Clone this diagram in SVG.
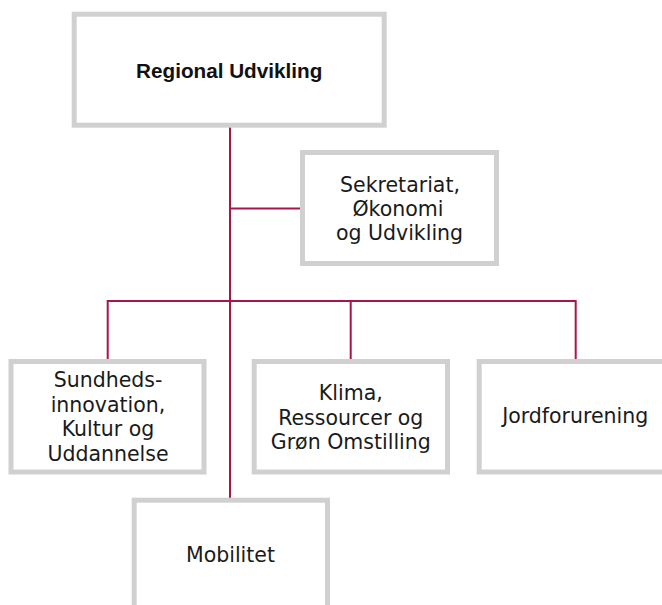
<svg xmlns="http://www.w3.org/2000/svg" width="662" height="605" viewBox="0 0 662 605">
<style>
.box{fill:#ffffff;stroke:#d0d0d0;stroke-width:5}
.t{font-family:"DejaVu Sans","Liberation Sans",sans-serif;font-size:20.5px;fill:#1a1a1a;text-anchor:middle}
.tb{font-family:"Liberation Sans",Arial,sans-serif;font-weight:bold;font-size:20.7px;fill:#111111;text-anchor:middle}
.c{stroke:#a8144c;stroke-width:2;fill:none}
</style>
<rect width="662" height="605" fill="#ffffff"/>
<g id="connectors">
<path class="c" d="M230,127 V498"/>
<path class="c" d="M230,208.5 H300"/>
<path class="c" d="M107.7,359 V301 H575.7 V359"/>
<path class="c" d="M350.7,301 V359"/>
</g>
<g id="regional-udvikling">
<rect class="box" x="74.2" y="14.2" width="310" height="111"/>
<text class="tb" x="229.2" y="78.3">Regional Udvikling</text>
</g>
<g id="sekretariat">
<rect class="box" x="302.5" y="152.5" width="194" height="111"/>
<text class="t" x="400" y="191.5">Sekretariat,</text>
<text class="t" x="398" y="215.5">Økonomi</text>
<text class="t" x="399.5" y="240">og Udvikling</text>
</g>
<g id="sundhed">
<rect class="box" x="11" y="361.5" width="193" height="110.5"/>
<text class="t" x="108" y="387">Sundheds-</text>
<text class="t" x="108" y="411.5">innovation,</text>
<text class="t" x="108" y="436">Kultur og</text>
<text class="t" x="108" y="460.5">Uddannelse</text>
</g>
<g id="klima">
<rect class="box" x="254.2" y="361.5" width="193.3" height="110.5"/>
<text class="t" x="350.8" y="400">Klima,</text>
<text class="t" x="350.8" y="424.5">Ressourcer og</text>
<text class="t" x="350.8" y="449">Grøn Omstilling</text>
</g>
<g id="jordforurening">
<rect class="box" x="479.2" y="361.5" width="194" height="110.5"/>
<text class="t" x="575.2" y="423.3">Jordforurening</text>
</g>
<g id="mobilitet">
<rect class="box" x="134.2" y="500.2" width="193.3" height="111"/>
<text class="t" x="230.5" y="561.7">Mobilitet</text>
</g>
</svg>
